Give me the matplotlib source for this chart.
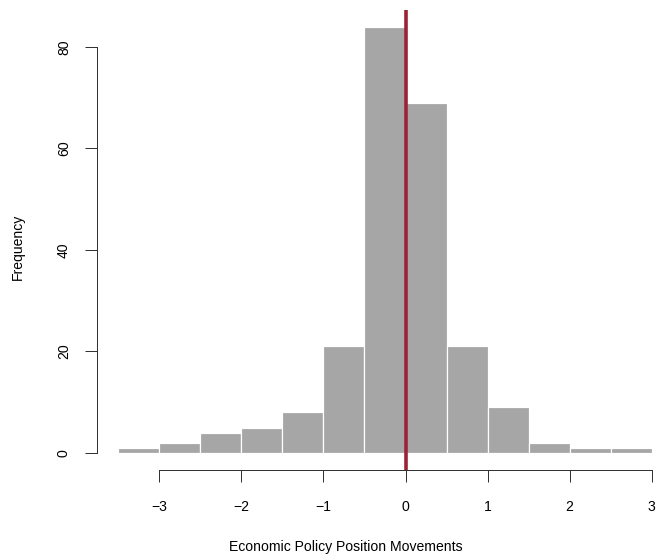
import matplotlib
matplotlib.use("Agg")
import matplotlib.pyplot as plt
import numpy as np

plt.rcParams['font.family'] = ['Liberation Sans', 'DejaVu Sans']

# histogram bins (0.5 wide) and counts
breaks = [-3.5, -3.0, -2.5, -2.0, -1.5, -1.0, -0.5, 0.0, 0.5, 1.0, 1.5, 2.0, 2.5, 3.0]
counts = [1, 2, 4, 5, 8, 21, 84, 69, 21, 9, 2, 1, 1]
xticks = [-3, -2, -1, 0, 1, 2, 3]
yticks = [0, 20, 40, 60, 80]
xtick_labels = ['\u22123', '\u22122', '\u22121', '0', '1', '2', '3']

fs = 14
fig = plt.figure(figsize=(657 / 72, 560 / 72), dpi=72)
W, H = 657, 560
left, right, bottom, top = 97, 673, 470, 9.6
ax = fig.add_axes([left / W, (H - bottom) / H, (right - left) / W, (bottom - top) / H])

lefts = np.array(breaks[:-1])
widths = np.diff(breaks)
ax.bar(lefts, counts, width=widths, align='edge', color='#A6A6A6',
       edgecolor='white', linewidth=1.2)
ax.axvline(0, color='#9B2335', linewidth=3.6)

ax.set_xlim(-3.5 - 0.04 * 6.5, 3.0 + 0.04 * 6.5)
ax.set_ylim(-0.04 * 84, 84 * 1.04)

for s in ['top', 'right']:
    ax.spines[s].set_visible(False)
ax.spines['left'].set_bounds(0, 80)
ax.spines['bottom'].set_bounds(-3, 3)
for s in ['left', 'bottom']:
    ax.spines[s].set_color('#333333')
    ax.spines[s].set_linewidth(1)

ax.set_xticks(xticks)
ax.set_xticklabels(xtick_labels)
ax.set_yticks(yticks)
ax.set_yticklabels([str(v) for v in yticks], rotation=90, va='center')
ax.tick_params(axis='both', direction='out', length=12, width=1, color='#333333',
               labelsize=fs, pad=18)
ax.tick_params(axis='y', pad=14)

fig.text(346 / W, 1 - 547 / H, 'Economic Policy Position Movements', fontsize=fs,
         ha='center', va='center')
fig.text(18 / W, 1 - 247 / H, 'Frequency', fontsize=fs, rotation=90,
         ha='center', va='center')

fig.savefig('out.png', dpi=72)
